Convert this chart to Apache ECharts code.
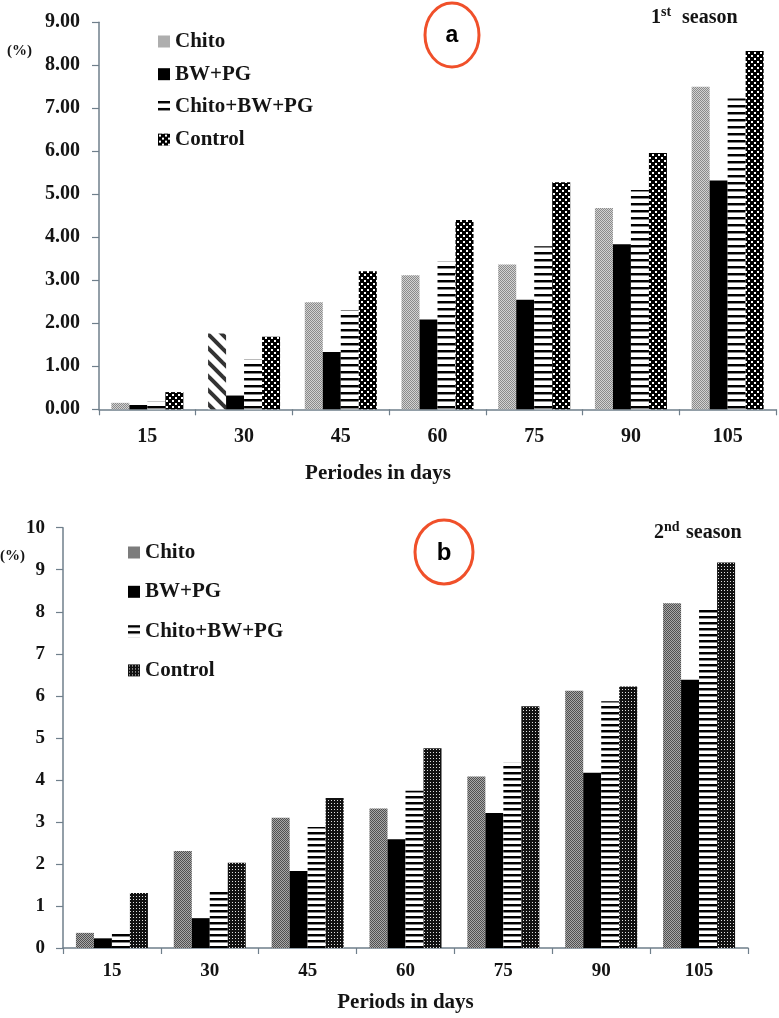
<!DOCTYPE html>
<html>
<head>
<meta charset="utf-8">
<script src="https://cdn.jsdelivr.net/npm/echarts/dist/echarts.min.js"></script>
<style>
html,body{margin:0;padding:0;background:#fff;}
#ca{position:absolute;left:0;top:0;width:779px;height:490px;}
#cb{position:absolute;left:0;top:490px;width:779px;height:528px;}
</style>
</head>
<body>
<div id="ca"></div>
<div id="cb"></div>
<script>
// ---------- data ----------
const categories = ['15', '30', '45', '60', '75', '90', '105'];
const seriesNames = ['Chito', 'BW+PG', 'Chito+BW+PG', 'Control'];
const xTitleA = 'Periodes in days';
const xTitleB = 'Periods in days';
const yUnit = '(%)';

// 1st season (a)
const aChito   = [0.15, 1.76, 2.49, 3.12, 3.37, 4.68, 7.50];
const aBW      = [0.10, 0.32, 1.33, 2.09, 2.55, 3.84, 5.32];
const aCBP     = [0.18, 1.16, 2.31, 3.44, 3.79, 5.10, 7.23];
const aControl = [0.40, 1.69, 3.21, 4.40, 5.28, 5.96, 8.33];

// 2nd season (b)
const bChito   = [0.36, 2.31, 3.10, 3.32, 4.08, 6.12, 8.20];
const bBW      = [0.23, 0.71, 1.83, 2.59, 3.21, 4.17, 6.38];
const bCBP     = [0.38, 1.40, 2.88, 3.74, 4.41, 5.87, 8.04];
const bControl = [1.31, 2.03, 3.57, 4.75, 5.75, 6.22, 9.17];

// ---------- patterns ----------
function pat(w, h, draw) {
  const c = document.createElement('canvas');
  c.width = w; c.height = h;
  const ctx = c.getContext('2d');
  draw(ctx, w, h);
  return { image: c, repeat: 'repeat' };
}
function checker(a, b) {
  return pat(2, 2, (ctx) => {
    ctx.fillStyle = b; ctx.fillRect(0, 0, 2, 2);
    ctx.fillStyle = a; ctx.fillRect(0, 0, 1, 1); ctx.fillRect(1, 1, 1, 1);
  });
}
function stripes(period, thick) {
  return pat(4, period, (ctx, w) => {
    ctx.fillStyle = '#fff'; ctx.fillRect(0, 0, w, period);
    ctx.fillStyle = '#000'; ctx.fillRect(0, 0, w, thick);
    ctx.fillStyle = '#888'; ctx.fillRect(0, thick, w, 1);
  });
}
const chitoA = checker('#8a8a8a', '#d2d2d2');
const chitoB = checker('#505050', '#a8a8a8');
const cbpA = stripes(7, 2);
const cbpB = stripes(6, 2);
const controlA = pat(6, 6, (ctx) => {
  ctx.fillStyle = '#000'; ctx.fillRect(0, 0, 6, 6);
  ctx.fillStyle = '#fff'; ctx.fillRect(1, 1, 2, 2); ctx.fillRect(4, 4, 2, 2);
});
const controlB = pat(3, 3, (ctx) => {
  ctx.fillStyle = '#111'; ctx.fillRect(0, 0, 3, 3);
  ctx.fillStyle = '#e0e0e0'; ctx.fillRect(1, 1, 1, 1);
});
const diagA = pat(14, 14, (ctx) => {
  ctx.fillStyle = '#fff'; ctx.fillRect(0, 0, 14, 14);
  ctx.strokeStyle = '#333'; ctx.lineWidth = 4;
  for (let k = -1; k <= 1; k++) {
    ctx.beginPath(); ctx.moveTo(-4, -4 + k * 14); ctx.lineTo(18, 18 + k * 14); ctx.stroke();
  }
});

// ---------- common styles ----------
const SERIF = '"Liberation Serif", "Times New Roman", serif';
const TXT = '#141414';
const AXIS = '#6f7f8b';

function makeOption(cfg) {
  const s = cfg.series;
  return {
    animation: false,
    backgroundColor: '#fff',
    grid: cfg.grid,
    legend: {
      orient: 'vertical',
      left: cfg.legend.left, top: cfg.legend.top,
      padding: 0,
      itemWidth: 12, itemHeight: 12, itemGap: cfg.legend.gap,
      icon: 'rect',
      data: seriesNames,
      textStyle: { fontFamily: SERIF, fontWeight: 'bold', fontSize: 21, lineHeight: 21, color: TXT }
    },
    xAxis: {
      type: 'category',
      data: categories,
      boundaryGap: true,
      axisLine: { lineStyle: { color: AXIS, width: 1.5 } },
      axisTick: { show: true, length: 6, lineStyle: { color: AXIS, width: 1.2 } },
      axisLabel: { fontFamily: SERIF, fontWeight: 'bold', fontSize: cfg.xLabelSize, color: TXT, margin: cfg.xLabelMargin },
      name: cfg.xName,
      nameLocation: 'middle',
      nameGap: cfg.xNameGap,
      nameTextStyle: { fontFamily: SERIF, fontWeight: 'bold', fontSize: 21, color: TXT, padding: cfg.xNamePadding }
    },
    yAxis: {
      type: 'value',
      min: 0, max: cfg.yMax, interval: 1,
      splitLine: { show: false },
      axisLine: { show: true, lineStyle: { color: AXIS, width: 1.5 } },
      axisTick: { show: true, length: 7, lineStyle: { color: AXIS, width: 1.2 } },
      axisLabel: {
        fontFamily: SERIF, fontWeight: 'bold', fontSize: cfg.yLabelSize, color: TXT, margin: cfg.yLabelMargin,
        formatter: cfg.yFormatter
      }
    },
    series: s.map((d, i) => ({
      name: seriesNames[i],
      type: 'bar',
      barWidth: 18,
      barGap: '0%',
      data: d.data,
      itemStyle: { color: d.color }
    })),
    graphic: cfg.graphic
  };
}

// ---------- chart a ----------
const chartA = echarts.init(document.getElementById('ca'), null, { renderer: 'canvas' });
chartA.setOption(makeOption({
  grid: { left: 99, top: 22.3, width: 677, height: 387 },
  legend: { left: 158, top: 31, gap: 11.7 },
  yMax: 9,
  yFormatter: (v) => v.toFixed(2),
  yLabelSize: 20, yLabelMargin: 19,
  xLabelSize: 20, xLabelMargin: 18,
  xName: xTitleA, xNameGap: 54, xNamePadding: [0, 119, 0, 0],
  series: [
    { data: aChito.map((v, i) => i === 1 ? { value: v, itemStyle: { color: diagA } } : v), color: chitoA },
    { data: aBW, color: '#000' },
    { data: aCBP, color: cbpA },
    { data: aControl, color: controlA }
  ],
  graphic: [
    { type: 'text', left: 7, top: 44, style: { text: yUnit, font: 'bold 15px ' + SERIF, fill: TXT } },
    { type: 'ellipse', shape: { cx: 452, cy: 35, rx: 27, ry: 32 }, style: { fill: 'none', stroke: '#f0502a', lineWidth: 3 } },
    { type: 'text', x: 452, y: 36, style: { text: 'a', font: 'bold 23px "Liberation Sans", Arial, sans-serif', fill: '#000', align: 'center', verticalAlign: 'middle' } },
    { type: 'text', x: 651, y: 18, style: { text: '1', font: 'bold 20px ' + SERIF, fill: TXT, verticalAlign: 'middle' } },
    { type: 'text', x: 661, y: 12, style: { text: 'st', font: 'bold 14px ' + SERIF, fill: TXT, verticalAlign: 'middle' } },
    { type: 'text', x: 682, y: 18, style: { text: 'season', font: 'bold 20px ' + SERIF, fill: TXT, verticalAlign: 'middle' } }
  ]
}));

// ---------- chart b ----------
const chartB = echarts.init(document.getElementById('cb'), null, { renderer: 'canvas' });
chartB.setOption(makeOption({
  grid: { left: 63, top: 37.7, width: 685, height: 424 },
  legend: { left: 128, top: 52, gap: 18.3 },
  yMax: 10,
  yFormatter: (v) => String(v),
  yLabelSize: 19, yLabelMargin: 18,
  xLabelSize: 19, xLabelMargin: 14,
  xName: xTitleB, xNameGap: 44, xNamePadding: [0, 0, 0, 0],
  series: [
    { data: bChito, color: chitoB },
    { data: bBW, color: '#000' },
    { data: bCBP, color: cbpB },
    { data: bControl, color: controlB }
  ],
  graphic: [
    { type: 'text', left: 0, top: 59, style: { text: yUnit, font: 'bold 15px ' + SERIF, fill: TXT } },
    { type: 'ellipse', shape: { cx: 444, cy: 62, rx: 29, ry: 32 }, style: { fill: 'none', stroke: '#f0502a', lineWidth: 3 } },
    { type: 'text', x: 444, y: 63, style: { text: 'b', font: 'bold 24px "Liberation Sans", Arial, sans-serif', fill: '#000', align: 'center', verticalAlign: 'middle' } },
    { type: 'text', x: 654, y: 43, style: { text: '2', font: 'bold 20px ' + SERIF, fill: TXT, verticalAlign: 'middle' } },
    { type: 'text', x: 664, y: 37, style: { text: 'nd', font: 'bold 14px ' + SERIF, fill: TXT, verticalAlign: 'middle' } },
    { type: 'text', x: 686, y: 43, style: { text: 'season', font: 'bold 20px ' + SERIF, fill: TXT, verticalAlign: 'middle' } }
  ]
}));
</script>
</body>
</html>
